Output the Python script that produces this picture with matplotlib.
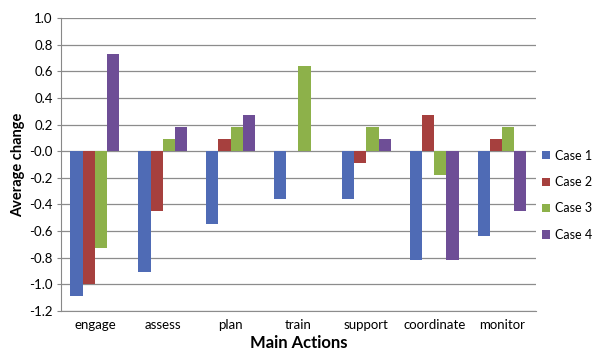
import numpy as np
import matplotlib.pyplot as plt

plt.rcParams['font.family'] = ['Lato', 'DejaVu Sans']

# average change per action, for each case
actions = ['engage', 'assess', 'plan', 'train', 'support', 'coordinate', 'monitor']
case1 = [-1.09, -0.91, -0.55, -0.36, -0.36, -0.82, -0.64]
case2 = [-1.00, -0.45, 0.09, 0.00, -0.09, 0.27, 0.09]
case3 = [-0.73, 0.09, 0.18, 0.64, 0.18, -0.18, 0.18]
case4 = [0.73, 0.18, 0.27, 0.00, 0.09, -0.82, -0.45]

series = [case1, case2, case3, case4]
names = ['Case 1', 'Case 2', 'Case 3', 'Case 4']
colors = ['#4F6BB5', '#A6403E', '#8DB14A', '#6E4E96']

fig = plt.figure(figsize=(5.96, 3.52), dpi=100)
ax = fig.add_axes([0.1023, 0.1165, 0.797, 0.8324])

x = np.arange(len(actions))
w = 0.18
for i, (vals, name, col) in enumerate(zip(series, names, colors)):
    ax.bar(x + (i - 1.5) * w, vals, w, color=col, label=name, zorder=3)

ax.set_xlim(-0.5, len(actions) - 0.5)
ax.set_ylim(-1.2, 1.0)
yt = np.arange(-1.2, 1.01, 0.2)
ax.set_yticks(yt)
ax.set_yticklabels(['%.1f' % v for v in yt], fontsize=9.5)
ax.set_xticks(x)
ax.set_xticklabels(actions, fontsize=9.5)
ax.tick_params(axis='x', length=0, pad=6)
ax.tick_params(axis='y', length=3, color='#888888', pad=3)

ax.yaxis.grid(True, color='#8c8c8c', lw=0.9, zorder=0)
for s in ['top', 'right']:
    ax.spines[s].set_visible(False)
ax.spines['left'].set_color('#888888')
ax.spines['bottom'].set_color('#8c8c8c')

ax.set_xlabel('Main Actions', fontsize=12, fontweight='bold', labelpad=3)
ax.set_ylabel('Average change', fontsize=10.5, fontweight='bold', labelpad=3)

ax.legend(loc='center left', bbox_to_anchor=(1.012, 0.395), frameon=False,
          fontsize=9, handlelength=0.65, handleheight=0.65, handletextpad=0.4,
          labelspacing=1.15, borderaxespad=0, borderpad=0)

plt.savefig('out.png', dpi=100)
